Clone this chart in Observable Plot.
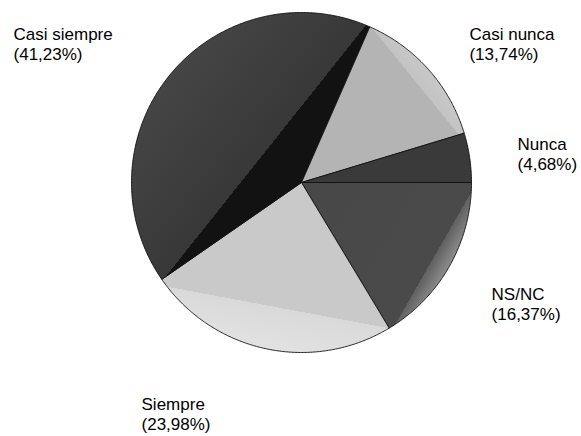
<!DOCTYPE html>
<html><head><meta charset="utf-8">
<script src="https://cdn.jsdelivr.net/npm/d3@7"></script>
<script src="https://cdn.jsdelivr.net/npm/@observablehq/plot@0.6"></script>
<style>body{margin:0;background:#fff}</style>
</head><body><div id="chart"></div>
<script>
// Data (drawing order: clockwise from 3 o'clock)
const categories = ["NS/NC", "Siempre", "Casi siempre", "Casi nunca", "Nunca"];
const values = [16.37, 23.98, 41.23, 13.74, 4.68];
const labelTexts = ["NS/NC\n(16,37%)", "Siempre\n(23,98%)", "Casi siempre\n(41,23%)", "Casi nunca\n(13,74%)", "Nunca\n(4,68%)"];
// Layout (label anchors in scale units, gradient styles)
const labelX = [1.118, -0.941, -1.694, 0.988, 1.271];
const labelY = [-0.606, -1.253, 0.924, 0.924, 0.276];
const gradients = [
  {id: "g0", n: [0.867, -0.498], stops: [[0, "#484848"], [0.894, "#4a4a4a"], [0.894, "#606060"], [1, "#8c8c8c"]]},
  {id: "g1", n: [-0.184, -0.983], stops: [[0, "#c9c9c9"], [0.748, "#c9c9c9"], [0.748, "#d9d9d9"], [1, "#e2e2e2"]]},
  {id: "g2", n: [-0.782, 0.623], stops: [[0, "#121212"], [0.28, "#121212"], [0.28, "#383838"], [1, "#454545"]]},
  {id: "g3", n: [0.776, 0.631], stops: [[0, "#b4b4b4"], [0.895, "#b4b4b4"], [0.895, "#c3c3c3"], [1, "#c8c8c8"]]},
  {id: "g4", n: [1, 0], stops: [[0, "#3a3a3a"], [1, "#3a3a3a"]]}
];

const arcs = d3.pie().sort(null).startAngle(Math.PI / 2).endAngle(Math.PI / 2 + 2 * Math.PI)(values);
const slices = arcs.map((a, i) => {
  const pts = [{x: 0, y: 0}];
  const n = Math.max(2, Math.ceil((a.endAngle - a.startAngle) / (Math.PI / 360)));
  for (let j = 0; j <= n; j++) {
    const t = a.startAngle + (a.endAngle - a.startAngle) * j / n;
    pts.push({x: Math.sin(t), y: Math.cos(t)});
  }
  pts.push({x: 0, y: 0});
  return {cat: categories[i], pts};
});
const labelRows = categories.map((c, i) => ({x: labelX[i], y: labelY[i], text: labelTexts[i]}));

const plot = Plot.plot({
  width: 581, height: 436,
  style: {fontFamily: "'Liberation Sans', Arial, sans-serif", background: "#fff"},
  x: {domain: [-1, 1], range: [131, 471], axis: null},
  y: {domain: [-1, 1], range: [352, 12], axis: null},
  marks: [
    ...slices.map((s, i) => Plot.line(s.pts, {x: "x", y: "y", fill: `url(#${gradients[i].id})`, stroke: "#111", strokeWidth: 0.9, strokeLinejoin: "round"})),
    Plot.text(labelRows, {x: "x", y: "y", text: "text", textAnchor: "start", lineAnchor: "top", lineHeight: 1.18, fontSize: 17, fill: "#000"})
  ]
});

const sx = plot.scale("x").apply, sy = plot.scale("y").apply;
const defs = d3.select(plot).insert("defs", ":first-child");
for (const g of gradients) {
  const lg = defs.append("linearGradient").attr("id", g.id).attr("gradientUnits", "userSpaceOnUse")
    .attr("x1", sx(0)).attr("y1", sy(0)).attr("x2", sx(g.n[0])).attr("y2", sy(g.n[1]));
  for (const [o, c] of g.stops) lg.append("stop").attr("offset", o).attr("stop-color", c);
}
document.getElementById("chart").appendChild(plot);
</script>
</body></html>
